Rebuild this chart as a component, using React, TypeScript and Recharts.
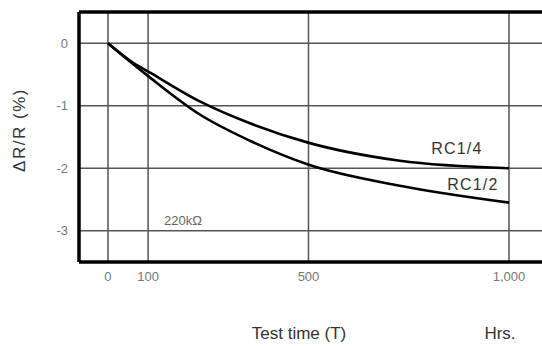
import React from 'react';
import { LineChart, Line, XAxis, YAxis, CartesianGrid, ReferenceLine, ReferenceDot } from 'recharts';

const hours = [0, 60, 105, 229, 354, 499, 728, 1000];
const rcQuarter = [0, -0.3, -0.47, -0.93, -1.28, -1.59, -1.88, -2.0];
const rcHalf = [0, -0.32, -0.55, -1.14, -1.56, -1.94, -2.28, -2.55];

const xTicks = [0, 100, 500, 1000];
const xTickLabels = ['0', '100', '500', '1,000'];
const yTicks = [0, -1, -2, -3];
const yTickLabels = ['0', '-1', '-2', '-3'];

const seriesNames = ['RC1/4', 'RC1/2'];
const resistanceNote = '220kΩ';

const data = hours.map((h, i) => ({ x: h, q: rcQuarter[i], h2: rcHalf[i] }));

const font = 'Arial, "Liberation Sans", sans-serif';

export default function App() {
  return (
    <div style={{ position: 'fixed', left: 0, top: 0, width: 542, height: 346, overflow: 'hidden', background: '#fff' }}>
      <LineChart width={560} height={346} data={data} margin={{ top: 12, right: 15, bottom: 0, left: 0 }}>
        <CartesianGrid stroke="#555" strokeWidth={1.5} />
        <XAxis
          type="number"
          dataKey="x"
          domain={[-72.3, 1089.8]}
          allowDataOverflow
          ticks={xTicks}
          tickFormatter={(v: number) => xTickLabels[xTicks.indexOf(v)]}
          height={84}
          axisLine={{ stroke: '#000', strokeWidth: 3.5 }}
          tickLine={false}
          tickSize={0}
          tickMargin={10}
          tick={{ fill: '#777', fontSize: 13, fontFamily: font }}
        />
        <YAxis
          type="number"
          domain={[-3.5, 0.5]}
          allowDataOverflow
          ticks={yTicks}
          tickFormatter={(v: number) => yTickLabels[yTicks.indexOf(v)]}
          width={79}
          axisLine={{ stroke: '#000', strokeWidth: 3.5 }}
          tickLine={false}
          tickSize={0}
          tickMargin={11}
          tick={{ fill: '#777', fontSize: 13, fontFamily: font }}
        />
        <ReferenceLine y={0.5} stroke="#000" strokeWidth={3.5} />
        <Line type="monotone" dataKey="q" stroke="#000" strokeWidth={2.6} dot={false} isAnimationActive={false} />
        <Line type="monotone" dataKey="h2" stroke="#000" strokeWidth={2.6} dot={false} isAnimationActive={false} />
        <ReferenceDot x={870} y={-1.685} r={0} stroke="none" fill="none"
          label={{ value: seriesNames[0], position: 'center', fill: '#333', fontSize: 16, fontFamily: font, style: { letterSpacing: 1.2 } }} />
        <ReferenceDot x={910} y={-2.25} r={0} stroke="none" fill="none"
          label={{ value: seriesNames[1], position: 'center', fill: '#333', fontSize: 16, fontFamily: font, style: { letterSpacing: 1.2 } }} />
        <ReferenceDot x={187} y={-2.83} r={0} stroke="none" fill="none"
          label={{ value: resistanceNote, position: 'center', fill: '#666', fontSize: 13, fontFamily: font }} />
      </LineChart>
      <svg width={542} height={346} style={{ position: 'absolute', left: 0, top: 0, pointerEvents: 'none' }}>
        <text x={19} y={130} transform="rotate(-90 19 130)" textAnchor="middle" dominantBaseline="central"
          fill="#333" fontSize={17} fontFamily={font} letterSpacing={1.5}>ΔR/R (%)</text>
        <text x={299} y={333} textAnchor="middle" dominantBaseline="central" fill="#333" fontSize={17} fontFamily={font}>Test time (T)</text>
        <text x={500} y={333} textAnchor="middle" dominantBaseline="central" fill="#333" fontSize={17} fontFamily={font}>Hrs.</text>
      </svg>
    </div>
  );
}
